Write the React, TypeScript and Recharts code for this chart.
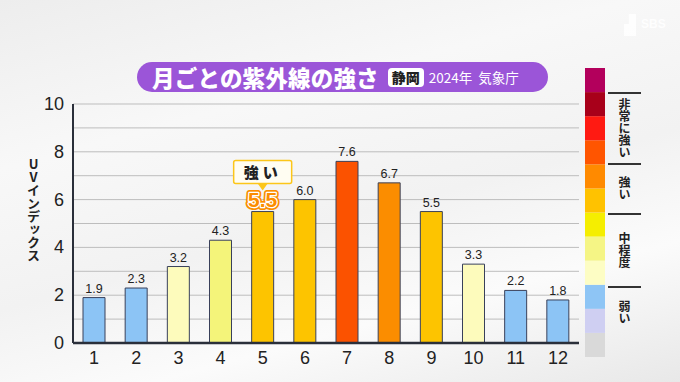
import { BarChart, Bar, XAxis, YAxis, CartesianGrid, Cell, LabelList } from "recharts";

const MONTHS = ["1", "2", "3", "4", "5", "6", "7", "8", "9", "10", "11", "12"];
const UV_VALUES = [1.9, 2.3, 3.2, 4.3, 5.5, 6.0, 7.6, 6.7, 5.5, 3.3, 2.2, 1.8];
const BAR_COLORS = [
  "#8cc4f5", "#8cc4f5", "#fdfbbc", "#f4f47a", "#fdc400", "#fdc400",
  "#fb5200", "#fb8d00", "#fdc400", "#fdfbbc", "#8cc4f5", "#8cc4f5",
];
const Y_TICKS = [0, 1, 2, 3, 4, 5, 6, 7, 8, 9, 10];
const HIGHLIGHT_INDEX = 4;
const HIGHLIGHT_TEXT = "強い";

// scale, bottom to top
const SCALE_COLORS = [
  "#d9d9d9", "#cfcff2", "#8ec5f5", "#fdfdc4", "#f5f585", "#f5ee00",
  "#ffc200", "#ff8a00", "#ff5500", "#ff1a12", "#a8001a", "#b3005c",
];
const SCALE_BANDS = [
  { label: "非常に強い", top: 92, bottom: 163 },
  { label: "強い", top: 163, bottom: 213 },
  { label: "中程度", top: 213, bottom: 286 },
  { label: "弱い", top: 286, bottom: 338 },
];
const Y_TITLE = "UVインデックス";

const FONT = "'Noto Sans CJK JP', 'Noto Sans', sans-serif";
const NUM_FONT = "'Liberation Sans', Arial, sans-serif";

const chartData = MONTHS.map((m, i) => ({ month: m, uv: UV_VALUES[i] }));
const scaleRow: Record<string, number | string> = { name: "scale" };
SCALE_COLORS.forEach((_c, i) => { scaleRow[`s${i}`] = 1; });

function VerticalText({ text, size, cx, cy }: { text: string; size: number; cx: number; cy: number }) {
  const lh = size + 3;
  const len = Array.from(text).length * size;
  return (
    <div style={{
      position: "absolute", left: cx - lh / 2, top: cy - len / 2, writingMode: "vertical-rl",
      textOrientation: "upright", fontSize: size, lineHeight: `${lh}px`, fontWeight: 700, color: "#222",
      whiteSpace: "nowrap",
    }}>
      {text}
    </div>
  );
}

function ValueLabel(props: any) {
  const { x, y, width, value, index } = props;
  const cx = x + width / 2;
  if (index === HIGHLIGHT_INDEX) {
    const boxBottom = y - 28;
    return (
      <g>
        <rect x={cx - 29} y={boxBottom - 23} width={58} height={23} rx={2}
          fill="#fffdf2" stroke="#fcc619" strokeWidth={1.5} />
        <path d={`M${cx - 5},${boxBottom} L${cx},${boxBottom + 7} L${cx + 5},${boxBottom} Z`}
          fill="#fcc619" />
        <text x={cx} y={boxBottom - 6} textAnchor="middle" fontSize={15} fontWeight={900}
          fontFamily={FONT} fill="#222" letterSpacing={4}>{HIGHLIGHT_TEXT}</text>
        <text x={cx} y={y - 5} textAnchor="middle" fontSize={21} fontWeight={900}
          fontFamily={NUM_FONT} fill="#fb8d00" stroke="#fb8d00" strokeWidth={6}
          strokeLinejoin="round">{Number(value).toFixed(1)}</text>
        <text x={cx} y={y - 5} textAnchor="middle" fontSize={21} fontWeight={900}
          fontFamily={NUM_FONT} fill="#fb8d00" stroke="#fff" strokeWidth={2.5}
          strokeLinejoin="round" style={{ paintOrder: "stroke" }}>{Number(value).toFixed(1)}</text>
      </g>
    );
  }
  return (
    <text x={cx} y={y - 5} textAnchor="middle" fontSize={12.5} fontFamily={NUM_FONT} fill="#222">
      {Number(value).toFixed(1)}
    </text>
  );
}

function YTick(props: any) {
  const { x, y, payload } = props;
  if (payload.value % 2 !== 0) return null;
  return (
    <text x={x} y={y + 6} textAnchor="end" fontSize={18} fontFamily={NUM_FONT} fill="#222">
      {payload.value}
    </text>
  );
}

export default function App() {
  return (
    <div style={{
      position: "absolute", left: 0, top: 0, width: 680, height: 382, overflow: "hidden",
      background: "linear-gradient(165deg, #ededed 0%, #f8f8f8 30%, #f2f2f2 55%, #fbfbfb 75%, #e8e8e8 100%)",
      fontFamily: FONT,
    }}>
      {/* faint broadcaster logo */}
      <div style={{ position: "absolute", left: 624, top: 14, width: 12, height: 22, background: "#fff", opacity: 0.8,
        clipPath: "polygon(40% 0, 100% 0, 100% 100%, 0 100%, 0 45%, 40% 45%)" }} />
      <div style={{ position: "absolute", left: 641, top: 17, color: "#fff", fontSize: 12, fontWeight: 700,
        fontFamily: NUM_FONT, opacity: 0.95 }}>SBS</div>

      <div style={{
        position: "absolute", left: 137, top: 62, width: 411, height: 30, borderRadius: 15,
        background: "#9b55d8", display: "flex", alignItems: "center", boxSizing: "border-box", paddingLeft: 15,
      }}>
        <span style={{ color: "#fff", fontSize: 22.5, fontWeight: 900, letterSpacing: 0.2 }}>月ごとの紫外線の強さ</span>
        <span style={{ marginLeft: 9, background: "#fff", color: "#222", fontSize: 14, fontWeight: 900,
          borderRadius: 4, padding: "0 4px", lineHeight: "19px" }}>静岡</span>
        <span style={{ marginLeft: 5, color: "#fff", fontSize: 13.5 }}>2024年&nbsp;&nbsp;気象庁</span>
      </div>

      <VerticalText text={Y_TITLE} size={13} cx={33} cy={210} />

      <div style={{ position: "absolute", left: 0, top: 0 }}>
        <BarChart width={680} height={382} data={chartData}
          margin={{ top: 104, right: 101, bottom: 0, left: 13 }} barSize={22}>
          <CartesianGrid vertical={false} stroke="#bdbdbd" strokeWidth={1} />
          <XAxis dataKey="month" height={39} tickLine={false} tickSize={0} tickMargin={8}
            axisLine={{ stroke: "#2a2f3a", strokeWidth: 2.5 }}
            tick={{ fontSize: 18, fill: "#222", fontFamily: NUM_FONT }} />
          <YAxis domain={[0, 10]} ticks={Y_TICKS} width={60} tickLine={false} tickSize={0}
            tickMargin={9} interval={0} axisLine={{ stroke: "#2a2f3a", strokeWidth: 2 }}
            tick={<YTick />} />
          <Bar dataKey="uv" isAnimationActive={false} stroke="#39405a" strokeWidth={1}>
            {chartData.map((_d, i) => <Cell key={i} fill={BAR_COLORS[i]} />)}
            <LabelList dataKey="uv" content={<ValueLabel />} />
          </Bar>
        </BarChart>
      </div>

      <div style={{ position: "absolute", left: 585, top: 68 }}>
        <BarChart width={20} height={289} data={[scaleRow]} margin={{ top: 0, right: 0, bottom: 0, left: 0 }}
          barCategoryGap={0}>
          <XAxis dataKey="name" hide />
          <YAxis domain={[0, 12]} hide />
          {SCALE_COLORS.map((c, i) => (
            <Bar key={i} dataKey={`s${i}`} stackId="scale" fill={c} isAnimationActive={false} />
          ))}
        </BarChart>
      </div>

      {SCALE_BANDS.map((b) => (
        <div key={b.label}>
          <div style={{ position: "absolute", left: 608, top: b.top, width: 33, height: 1.5, background: "#333" }} />
          <VerticalText text={b.label} size={12} cx={624.5} cy={(b.top + b.bottom) / 2} />
        </div>
      ))}
    </div>
  );
}
